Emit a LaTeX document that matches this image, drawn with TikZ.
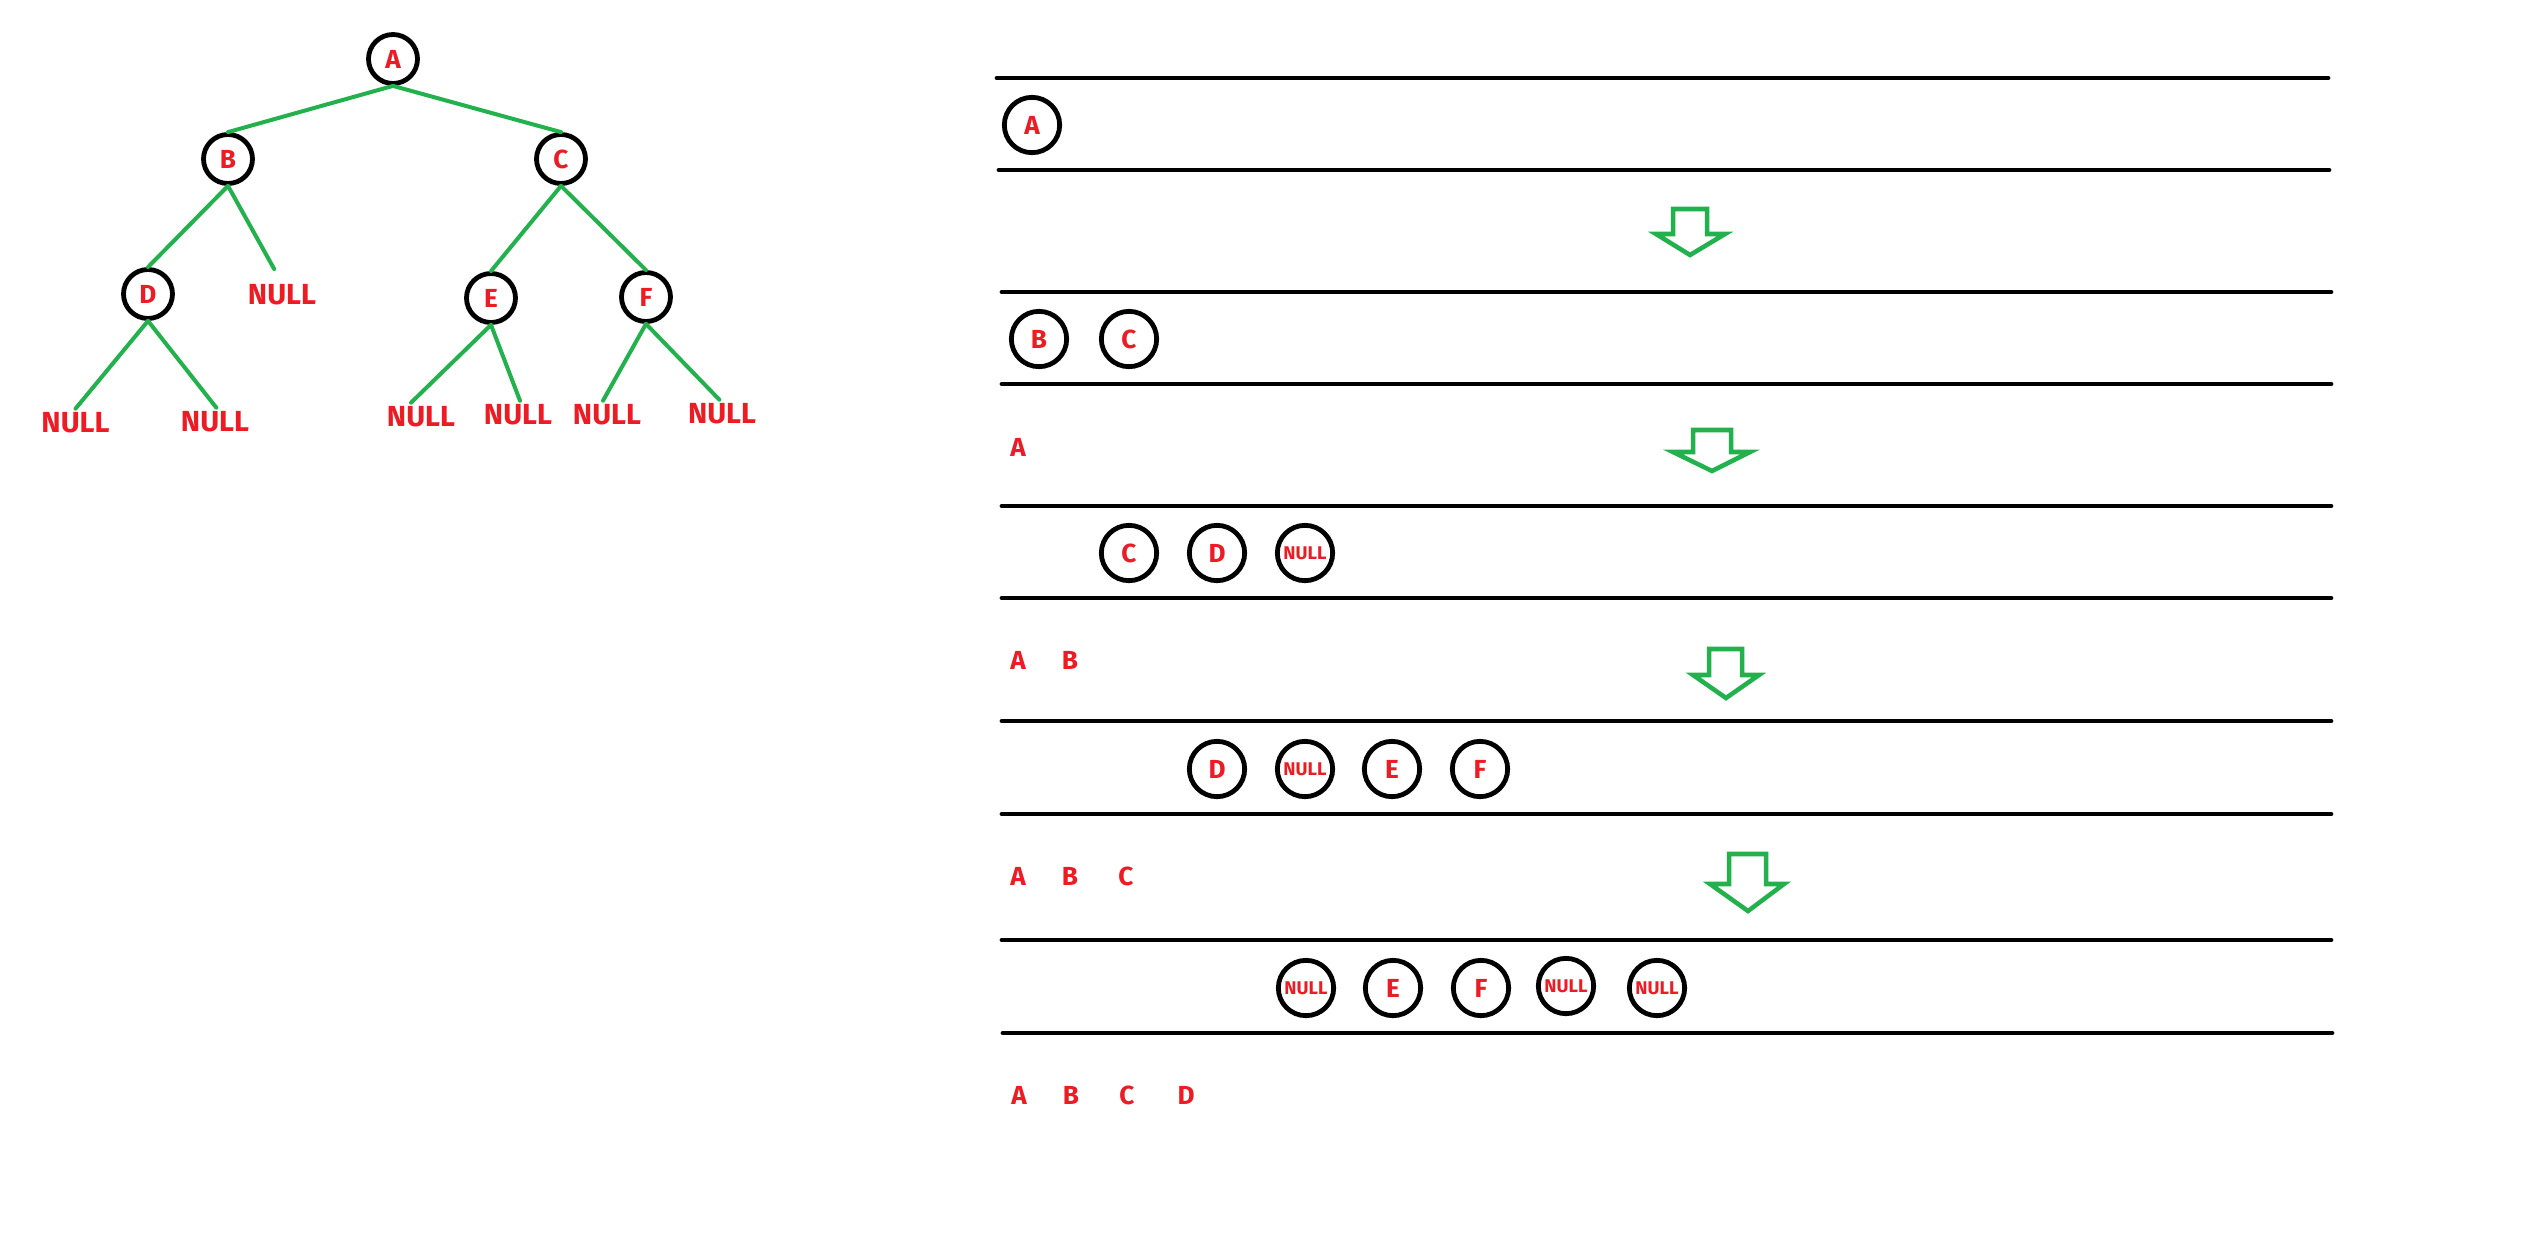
\documentclass[tikz,border=0pt]{standalone}
\usepackage{fontspec}
\setmainfont{Fira Sans}
\definecolor{pred}{RGB}{237,28,36}
\definecolor{pgreen}{RGB}{34,177,76}
\begin{document}
\begin{tikzpicture}[x=0.75pt,y=-0.75pt,
  lbl/.style={text=pred,font=\bfseries\fontsize{19.6pt}{20pt}\selectfont,inner sep=0pt},
  nulltxt/.style={text=pred,font=\bfseries\fontsize{21.8pt}{22pt}\selectfont,inner sep=0pt,outer sep=3pt},
  tcirc/.style={circle,draw=black,line width=3.6pt,minimum size=36.75pt,inner sep=0pt,text=pred,font=\bfseries\fontsize{19.6pt}{20pt}\selectfont},
  qcirc/.style={tcirc,minimum size=41.5pt},
  qnull/.style={qcirc,font=\bfseries\fontsize{13.8pt}{14pt}\selectfont},
  gedge/.style={draw=pgreen,line width=3pt,line cap=round},
  qline/.style={draw=black,line width=3.6pt,line cap=round},
  garrow/.style={draw=pgreen,line width=3.4pt,line join=miter}]
\fill[white] (0,0) rectangle (2542,1249);
\useasboundingbox (0,0) rectangle (2542,1249);

% ---------- tree ----------
\node[tcirc] (A) at (393,59) {A};
\node[tcirc] (B) at (228,159) {B};
\node[tcirc] (C) at (561,159) {C};
\node[tcirc] (D) at (148,294) {D};
\node[tcirc] (E) at (491,298) {E};
\node[tcirc] (F) at (646,297) {F};
\node[nulltxt] (nB)  at (282,295) {NULL};
\node[nulltxt] (nDl) at (75.5,423) {NULL};
\node[nulltxt] (nDr) at (215,422) {NULL};
\node[nulltxt] (nEl) at (421,417) {NULL};
\node[nulltxt] (nEr) at (518,415) {NULL};
\node[nulltxt] (nFl) at (607,415) {NULL};
\node[nulltxt] (nFr) at (722,414) {NULL};

\draw[gedge] (A.south) -- (B.north);
\draw[gedge] (A.south) -- (C.north);
\draw[gedge] (B.south) -- (D.north);
\draw[gedge,shorten >=10pt] (B.south) -- ([xshift=-1pt]nB.north);
\draw[gedge] (D.south) -- (nDl.north);
\draw[gedge] (D.south) -- ([xshift=1pt]nDr.north);
\draw[gedge] (C.south) -- (E.north);
\draw[gedge] (C.south) -- (F.north);
\draw[gedge] (E.south) -- ([xshift=-7.5pt]nEl.north);
\draw[gedge] (E.south) -- ([xshift=1.5pt]nEr.north);
\draw[gedge] (F.south) -- ([xshift=-3pt]nFl.north);
\draw[gedge] (F.south) -- ([xshift=-2pt]nFr.north);

% ---------- queue lines ----------
\draw[qline] (997,78) -- (2328,78);
\draw[qline] (999,170) -- (2329,170);
\draw[qline] (1002,292) -- (2331,292);
\draw[qline] (1002,384) -- (2331,384);
\draw[qline] (1002,506) -- (2331,506);
\draw[qline] (1002,598) -- (2331,598);
\draw[qline] (1002,721) -- (2331,721);
\draw[qline] (1002,814) -- (2331,814);
\draw[qline] (1002,940) -- (2331,940);
\draw[qline] (1003,1033) -- (2332,1033);

% ---------- queue contents ----------
\node[qcirc] (q1a) at (1032,125) {A};

\node[qcirc] (q2b) at (1039,339) {B};
\node[qcirc] (q2c) at (1129,339) {C};

\node[qcirc] (q3c) at (1129,553) {C};
\node[qcirc] (q3d) at (1217,553) {D};
\node[qnull] (q3n) at (1305,553) {NULL};

\node[qcirc] (q4d) at (1217,769) {D};
\node[qnull] (q4n) at (1305,769) {NULL};
\node[qcirc] (q4e) at (1392,769) {E};
\node[qcirc] (q4f) at (1480,769) {F};

\node[qnull] (q5n1) at (1306,988) {NULL};
\node[qcirc] (q5e)  at (1393,988) {E};
\node[qcirc] (q5f)  at (1481,988) {F};
\node[qnull] (q5n2) at (1566,986) {NULL};
\node[qnull] (q5n3) at (1657,988) {NULL};

% ---------- output ----------
\node[lbl] (o1a) at (1018,447) {A};

\node[lbl] (o2a) at (1018,660) {A};
\node[lbl] (o2b) at (1070,660) {B};

\node[lbl] (o3a) at (1018,876) {A};
\node[lbl] (o3b) at (1070,876) {B};
\node[lbl] (o3c) at (1126,876) {C};

\node[lbl] (o4a) at (1019,1095) {A};
\node[lbl] (o4b) at (1071,1095) {B};
\node[lbl] (o4c) at (1127,1095) {C};
\node[lbl] (o4d) at (1186,1095) {D};

% ---------- arrows ----------
\draw[garrow] (1673,209) -- (1707,209) -- (1707,234) -- (1725,234) -- (1690,255) -- (1656,234) -- (1673,234) -- cycle;
\draw[garrow] (1693,430) -- (1731,430) -- (1731,452) -- (1750,452) -- (1712,471) -- (1673,452) -- (1693,452) -- cycle;
\draw[garrow] (1709,649) -- (1742,649) -- (1742,675) -- (1759,675) -- (1726,698) -- (1693,675) -- (1709,675) -- cycle;
\draw[garrow] (1729,854) -- (1766,854) -- (1766,884) -- (1784,884) -- (1748,911) -- (1710,884) -- (1729,884) -- cycle;
\end{tikzpicture}
\end{document}
